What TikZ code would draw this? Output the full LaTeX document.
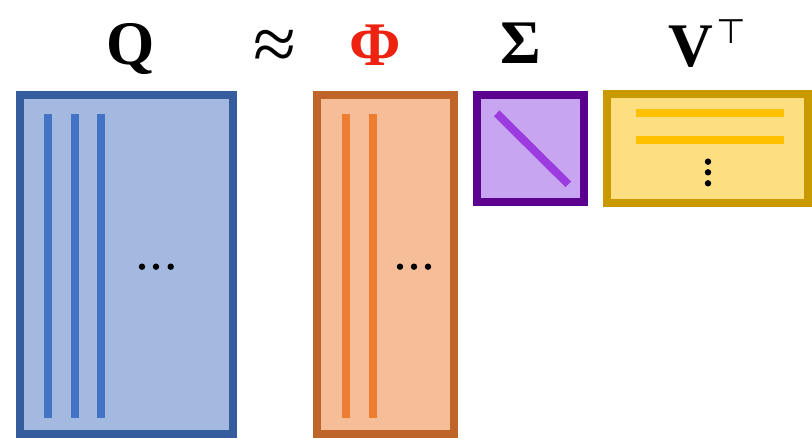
\documentclass[tikz,border=0pt]{standalone}
\usepackage{fontspec}
\setmainfont{Liberation Serif}
\newfontfamily\symfnt{DejaVu Sans}
\definecolor{qfill}{HTML}{A3B9E0}
\definecolor{qedge}{HTML}{355C9C}
\definecolor{qline}{HTML}{4472C4}
\definecolor{pfill}{HTML}{F5BD98}
\definecolor{pedge}{HTML}{C0652A}
\definecolor{pline}{HTML}{ED7D31}
\definecolor{sfill}{HTML}{C8A5F0}
\definecolor{sedge}{HTML}{5C0090}
\definecolor{sline}{HTML}{9B3BE0}
\definecolor{vfill}{HTML}{FDDE80}
\definecolor{vedge}{HTML}{C99A00}
\definecolor{vline}{HTML}{FFC000}
\definecolor{phired}{HTML}{EE2211}
\begin{document}
\begin{tikzpicture}[x=1pt,y=-1pt,
  mat/.style={draw, line width=8pt, inner sep=0pt, outer sep=0pt},
  lbl/.style={anchor=base, inner sep=0pt, font=\fontsize{62}{68}\selectfont\bfseries},
  bar/.style={line width=8pt},
  dot/.style={fill=black}]
\useasboundingbox (0,0) rectangle (812,438);
% matrices
\node[mat, fill=qfill, draw=qedge, minimum width=213.5pt, minimum height=338.5pt] (Q) at (126.25,264.75) {};
\node[mat, fill=pfill, draw=pedge, minimum width=137pt, minimum height=338.5pt] (P) at (385.8,264.75) {};
\node[mat, fill=sfill, draw=sedge, minimum width=107pt, minimum height=106.7pt] (S) at (530.8,148.3) {};
\node[mat, fill=vfill, draw=vedge, minimum width=201.3pt, minimum height=108.7pt] (V) at (707.3,148.3) {};
% Q columns
\foreach \x in {48,74.7,101.3} \draw[bar, qline] (\x,114) -- (\x,418);
\foreach \x in {142,156,170.7} \fill[dot] (\x,266.7) circle (3.2pt);
% Phi columns
\foreach \x in {346.3,373} \draw[bar, pline] (\x,114) -- (\x,418);
\foreach \x in {400,414,428} \fill[dot] (\x,266.7) circle (3.2pt);
% Sigma diagonal
\draw[bar, sline] (496.7,113.3) -- (568.3,184.3);
% V rows
\foreach \y in {113,139.7} \draw[bar, vline] (635.7,\y) -- (784,\y);
\foreach \y in {161.7,172.3,183.3} \fill[dot] (708,\y) circle (3.2pt);
% labels
\node[lbl] (lq) at (130.5,65) {Q};
\node[lbl, font=\fontsize{78}{84}\selectfont] (lapprox) at (274.6,71) {≈};
\node[lbl, text=phired] (lphi) at (375.6,66) {Φ};
\node[lbl] (ls) at (520.7,64) {Σ};
\node[lbl] (lv) at (707,67) {V\kern3pt\raisebox{23pt}{\fontsize{34}{36}\selectfont\mdseries\symfnt ⊤}};
\end{tikzpicture}
\end{document}
